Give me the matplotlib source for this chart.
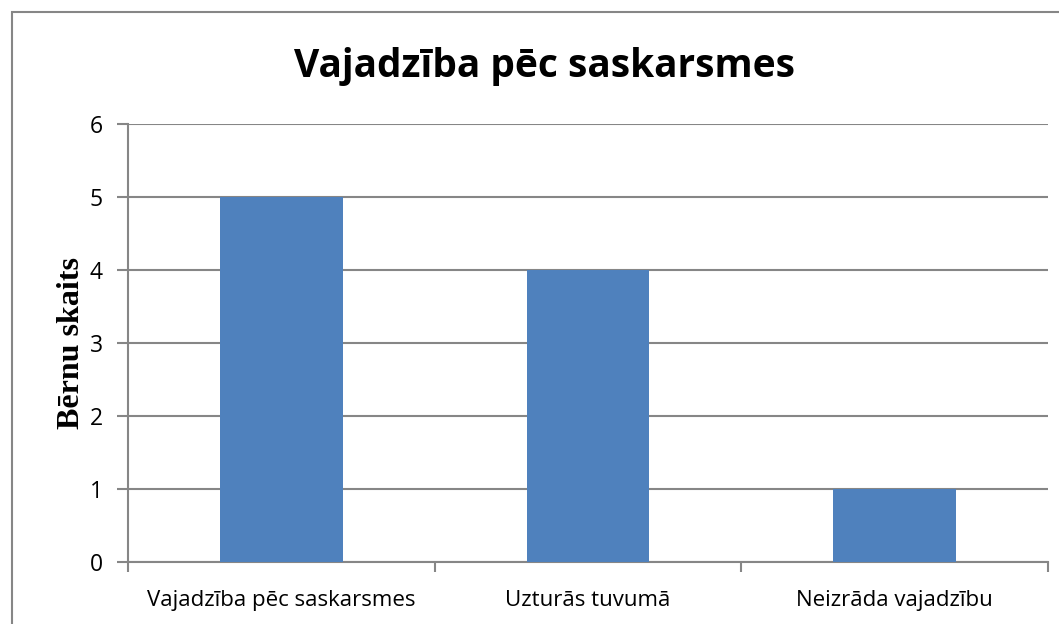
import matplotlib.pyplot as plt
from matplotlib.patches import Rectangle

categories = ["Vajadzība pēc saskarsmes", "Uzturās tuvumā", "Neizrāda vajadzību"]
values = [5, 4, 1]
yticks = [0, 1, 2, 3, 4, 5, 6]

W, H = 1059, 624
fig = plt.figure(figsize=(W / 100, H / 100), dpi=100)

# outer chart border
fig.patches.append(Rectangle((12 / W, -0.1), 1.2, 1 - 12 / H + 0.1, transform=fig.transFigure,
                             fill=False, edgecolor="#868686", linewidth=1.5))

ax = fig.add_axes([128 / W, 1 - 562 / H, (1048 - 128) / W, (562 - 124) / H])
ax.bar(range(len(values)), values, width=0.4, color="#4F81BD", zorder=3)

ax.set_xlim(-0.5, len(values) - 0.5)
ax.set_ylim(0, 6)
ax.set_yticks(yticks)
ax.yaxis.grid(True, color="#868686", linewidth=1.5, zorder=0)
ax.set_axisbelow(True)

ax.set_xticks(range(len(values)))
ax.set_xticklabels(categories, fontsize=16, family="Open Sans")
ax.set_xticks([i - 0.5 for i in range(len(values) + 1)], minor=True)
ax.tick_params(axis="x", which="major", length=0, pad=20)
ax.tick_params(axis="x", which="minor", length=7, width=1.5, color="#868686")
ax.tick_params(axis="y", length=8, width=1.5, color="#868686", pad=10)
for lbl in ax.get_yticklabels():
    lbl.set_fontsize(16.5)
    lbl.set_family("Open Sans")

for s in ["top", "right"]:
    ax.spines[s].set_visible(False)
for s in ["left", "bottom"]:
    ax.spines[s].set_color("#868686")
    ax.spines[s].set_linewidth(1.5)

ax.set_ylabel("Bērnu skaits", fontsize=23, fontweight="bold", family="Liberation Serif", labelpad=3)

fig.text(545 / W, 1 - 67 / H, "Vajadzība pēc saskarsmes", ha="center", va="center",
         fontsize=28, fontweight="bold", family="Open Sans")

fig.savefig("out.png", dpi=100)
